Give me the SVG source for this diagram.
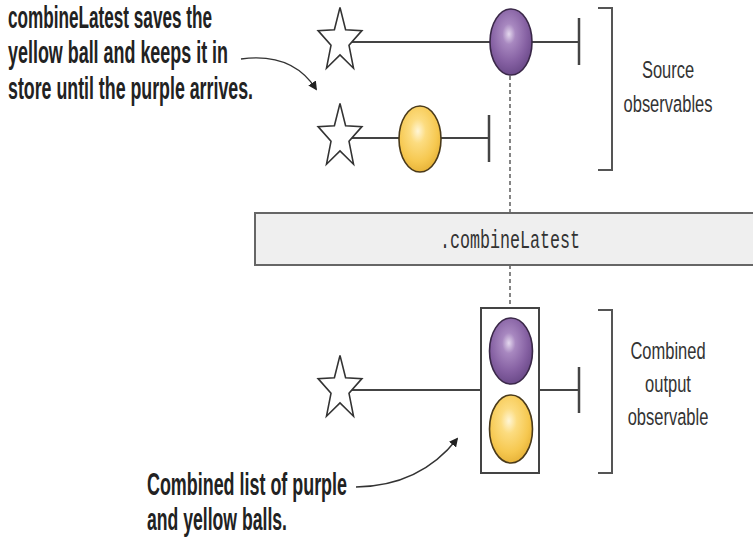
<svg xmlns="http://www.w3.org/2000/svg" xmlns:xlink="http://www.w3.org/1999/xlink" width="753" height="537" viewBox="0 0 753 537">
  <style>
    .line { stroke: #444; stroke-width: 2; fill: none; }
    .tick { stroke: #444; stroke-width: 2.5; fill: none; }
    .bracket { stroke: #555; stroke-width: 2; fill: none; }
    .dash { stroke: #444; stroke-width: 1.3; stroke-dasharray: 4 3; fill: none; }
    .star { fill: #fff; stroke: #333; stroke-width: 1.6; stroke-linejoin: miter; }
    .ball-p { fill: url(#gPurple); stroke: #3a2848; stroke-width: 1.6; }
    .ball-y { fill: url(#gYellow); stroke: #4a3a1a; stroke-width: 1.6; }
    .label { font-family: "Liberation Sans", Arial, sans-serif; font-size: 16.5px; fill: #333; text-anchor: middle; }
    .note { font-family: "Liberation Sans Narrow", "Liberation Sans", Arial, sans-serif; font-weight: bold; font-size: 19px; fill: #222; }
    .code { font-family: "Liberation Mono", "Courier New", monospace; font-size: 16.7px; fill: #333; text-anchor: middle; }
    .pointer { stroke: #333; stroke-width: 1.4; fill: none; marker-end: url(#arrow); }
  </style>
  <defs>
    <radialGradient id="gPurple" cx="0.45" cy="0.38" r="0.62">
      <stop offset="0" stop-color="#e4d8ee"/>
      <stop offset="0.25" stop-color="#a888c0"/>
      <stop offset="0.7" stop-color="#8560a2"/>
      <stop offset="1" stop-color="#6c4b8a"/>
    </radialGradient>
    <radialGradient id="gYellow" cx="0.45" cy="0.38" r="0.62">
      <stop offset="0" stop-color="#fff6d6"/>
      <stop offset="0.3" stop-color="#fcdc80"/>
      <stop offset="0.75" stop-color="#f6c850"/>
      <stop offset="1" stop-color="#e8b43a"/>
    </radialGradient>
    <polygon id="star" class="star" points="0,-33.6 5.6,-11.2 21.9,-10.4 9,4.3 13.5,27.2 0,13.9 -13.5,27.2 -9,4.3 -21.9,-10.4 -5.6,-11.2"/>
    <marker id="arrow" viewBox="0 0 10 10" refX="8" refY="5" markerWidth="9" markerHeight="9" markerUnits="userSpaceOnUse" orient="auto">
      <path d="M0,0 L10,5 L0,10 Z" fill="#222"/>
    </marker>
  </defs>

  <!-- connectors: dashed drops between timelines and operator, annotation pointers -->
  <g id="connectors">
    <line class="dash" x1="510" y1="76" x2="510" y2="213"/>
    <line class="dash" x1="510" y1="265" x2="510" y2="308"/>
    <path class="pointer" d="M241,59 Q292,52 316,89"/>
    <path class="pointer" d="M356,487 Q420,486 457,439"/>
  </g>

  <!-- source timeline 1: purple -->
  <g id="source-purple">
    <line class="line" x1="345" y1="42" x2="579" y2="42"/>
    <line class="tick" x1="579" y1="18" x2="579" y2="65"/>
    <use href="#star" x="340" y="41"/>
    <ellipse class="ball-p" cx="511" cy="42" rx="21" ry="33"/>
  </g>

  <!-- source timeline 2: yellow -->
  <g id="source-yellow">
    <line class="line" x1="345" y1="138" x2="489" y2="138"/>
    <line class="tick" x1="489" y1="115" x2="489" y2="162"/>
    <use href="#star" x="340" y="137"/>
    <ellipse class="ball-y" cx="420" cy="139" rx="21" ry="33"/>
  </g>

  <!-- bracket + label for sources -->
  <g id="source-label">
    <path class="bracket" d="M598,8 H612 V170 H598"/>
    <text class="label" transform="translate(668,78) scale(1,1.4)">Source</text>
    <text class="label" transform="translate(668,112) scale(1,1.4)">observables</text>
  </g>

  <!-- operator bar -->
  <g id="operator">
    <rect x="255" y="213" width="510" height="52" fill="#efefef" stroke="#666" stroke-width="2"/>
    <text class="code" transform="translate(510,248) scale(1,1.5)">.combineLatest</text>
  </g>

  <!-- combined output timeline -->
  <g id="output">
    <line class="line" x1="345" y1="390" x2="481" y2="390"/>
    <line class="line" x1="539" y1="390" x2="579" y2="390"/>
    <line class="tick" x1="579" y1="367" x2="579" y2="413"/>
    <use href="#star" x="340" y="389"/>
    <rect x="481" y="308" width="58" height="165" fill="#fff" stroke="#444" stroke-width="2"/>
    <ellipse class="ball-p" cx="511" cy="351" rx="21.5" ry="33"/>
    <ellipse class="ball-y" cx="511" cy="429" rx="21.5" ry="34"/>
  </g>

  <!-- bracket + label for output -->
  <g id="output-label">
    <path class="bracket" d="M598,310 H612 V473 H598"/>
    <text class="label" transform="translate(668,359) scale(1,1.4)">Combined</text>
    <text class="label" transform="translate(668,392) scale(1,1.4)">output</text>
    <text class="label" transform="translate(668,425) scale(1,1.4)">observable</text>
  </g>

  <!-- annotation: top -->
  <g id="note-top">
    <text class="note" transform="translate(8,28) scale(1,1.65)" textLength="204" lengthAdjust="spacingAndGlyphs">combineLatest saves the</text>
    <text class="note" transform="translate(8,63) scale(1,1.65)" textLength="220" lengthAdjust="spacingAndGlyphs">yellow ball and keeps it in</text>
    <text class="note" transform="translate(8,99) scale(1,1.65)" textLength="245" lengthAdjust="spacingAndGlyphs">store until the purple arrives.</text>
  </g>

  <!-- annotation: bottom -->
  <g id="note-bottom">
    <text class="note" transform="translate(147,495) scale(1,1.65)" textLength="200" lengthAdjust="spacingAndGlyphs">Combined list of purple</text>
    <text class="note" transform="translate(147,530) scale(1,1.65)" textLength="140" lengthAdjust="spacingAndGlyphs">and yellow balls.</text>
  </g>
</svg>
